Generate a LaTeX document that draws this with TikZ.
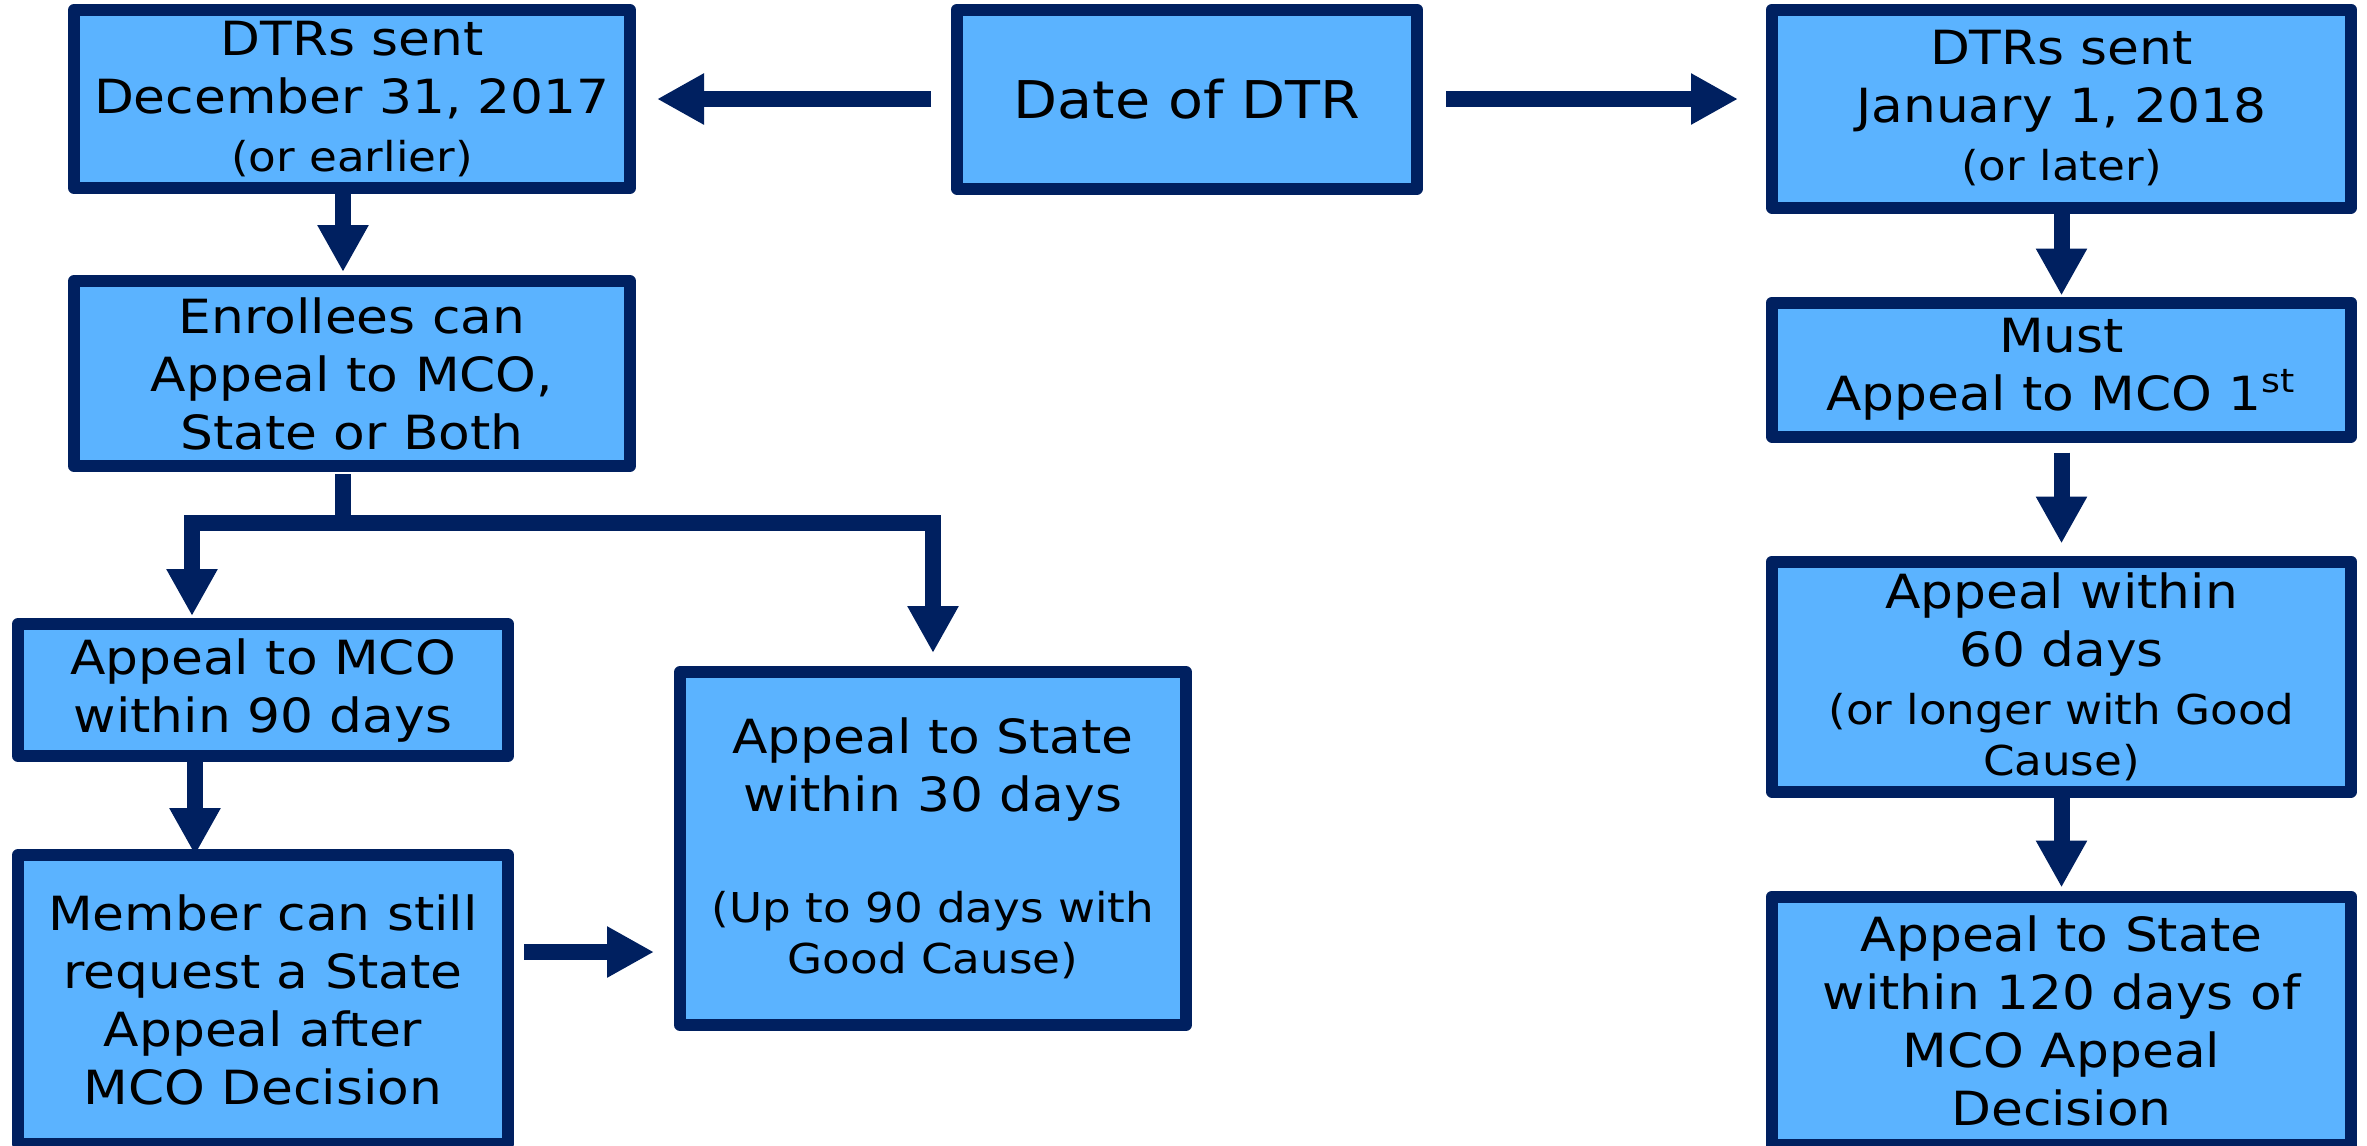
\documentclass[tikz,border=0pt]{standalone}
\usepackage{fontspec}
\setmainfont{DejaVu Sans}[FakeStretch=1.1]
\usetikzlibrary{positioning,arrows.meta}
\definecolor{navy}{HTML}{002060}
\definecolor{skyblue}{HTML}{5BB3FF}
\newcommand{\smalltxt}[1]{{\fontsize{11.7}{13.9}\selectfont #1}}

\begin{document}
\begin{tikzpicture}[box/.style = {draw=navy, fill=skyblue, line width=0.12cm, line join=round, inner sep=0pt, outer sep=0pt, align=center, font=\fontsize{13.4}{16.5}\selectfont}, flow/.style = {draw=navy, line width=0.16cm, -{Triangle[width=0.48cm,length=0.47cm]}}, link/.style = {draw=navy, line width=0.16cm}]
\useasboundingbox (0,0) rectangle (23.67,-11.45);
\clip (0,0) rectangle (23.67,-11.45);

%top row
\node[box, minimum width=5.56cm, minimum height=1.78cm] (dec) at (3.52,-0.99) {DTRs sent\\December 31, 2017\\\smalltxt{(or earlier)}};
\node[box, minimum width=4.60cm, minimum height=1.79cm, font=\fontsize{14.8}{18}\selectfont] (date) [right=3.27cm of dec] {Date of DTR};
\node[box, minimum width=5.79cm, minimum height=1.98cm] (jan) [right=3.55cm of date.north east, anchor=north west] {DTRs sent\\January 1, 2018\\\smalltxt{(or later)}};

%left side
\node[box, minimum width=5.56cm, minimum height=1.85cm] (enroll) [below=0.93cm of dec] {Enrollees can\\Appeal to MCO,\\State or Both};
\node[box, minimum width=4.90cm, minimum height=1.32cm] (mco) [below=1.58cm of enroll.south west, anchor=north west, xshift=-0.56cm] {Appeal to MCO\\within 90 days};
\node[box, minimum width=4.90cm, minimum height=2.89cm] (member) [below=0.99cm of mco] {Member can still\\request a State\\Appeal after\\MCO Decision};
\node[box, minimum width=5.06cm, minimum height=3.53cm] (state) [right=1.72cm of mco.north east, anchor=north west, yshift=-0.48cm] {Appeal to State\\within 30 days\\[0.53cm]\smalltxt{(Up to 90 days with}\\[-2pt]\smalltxt{Good Cause)}};

%right side
\node[box, minimum width=5.79cm, minimum height=1.34cm] (must) [below=0.95cm of jan] {Must\\Appeal to MCO 1\textsuperscript{st}};
\node[box, minimum width=5.79cm, minimum height=2.30cm] (sixty) [below=1.25cm of must] {Appeal within\\60 days\\\smalltxt{(or longer with Good}\\[-2pt]\smalltxt{Cause)}};
\node[box, minimum width=5.79cm, minimum height=2.48cm] (late) [below=1.05cm of sixty] {Appeal to State\\within 120 days of\\MCO Appeal\\Decision};

\coordinate (split) at ([xshift=-0.09cm, yshift=-0.57cm]enroll.south);

\draw[flow, shorten <=0.26cm, shorten >=0.27cm] (date.west) -- (dec.east);
\draw[flow, shorten <=0.29cm, shorten >=0.34cm] (date.east) -- (date.east -| jan.west);
\draw[flow, shorten >=0.09cm] ([xshift=-0.09cm]dec.south) -- ([xshift=-0.09cm]enroll.north);

\draw[link, shorten <=0.08cm] ([xshift=-0.09cm]enroll.south) -- (split);
\draw[flow, shorten >=0.08cm] (split) -| ([xshift=-0.71cm]mco.north);
\draw[flow, shorten >=0.19cm] (split) -| (state.north);
\draw[flow, shorten <=0.06cm] ([xshift=-0.68cm]mco.south) -- ([xshift=-0.68cm]member.north);
\draw[flow, shorten <=0.16cm, shorten >=0.26cm] ([yshift=0.475cm]member.east) -- ([yshift=0.475cm]member.east -| state.west);

\draw[flow, shorten >=0.07cm] (jan.south) -- (must.north);
\draw[flow, shorten <=0.16cm, shorten >=0.18cm] (must.south) -- (sixty.north);
\draw[flow, shorten >=0.09cm] (sixty.south) -- (late.north);
\end{tikzpicture}
\end{document}
